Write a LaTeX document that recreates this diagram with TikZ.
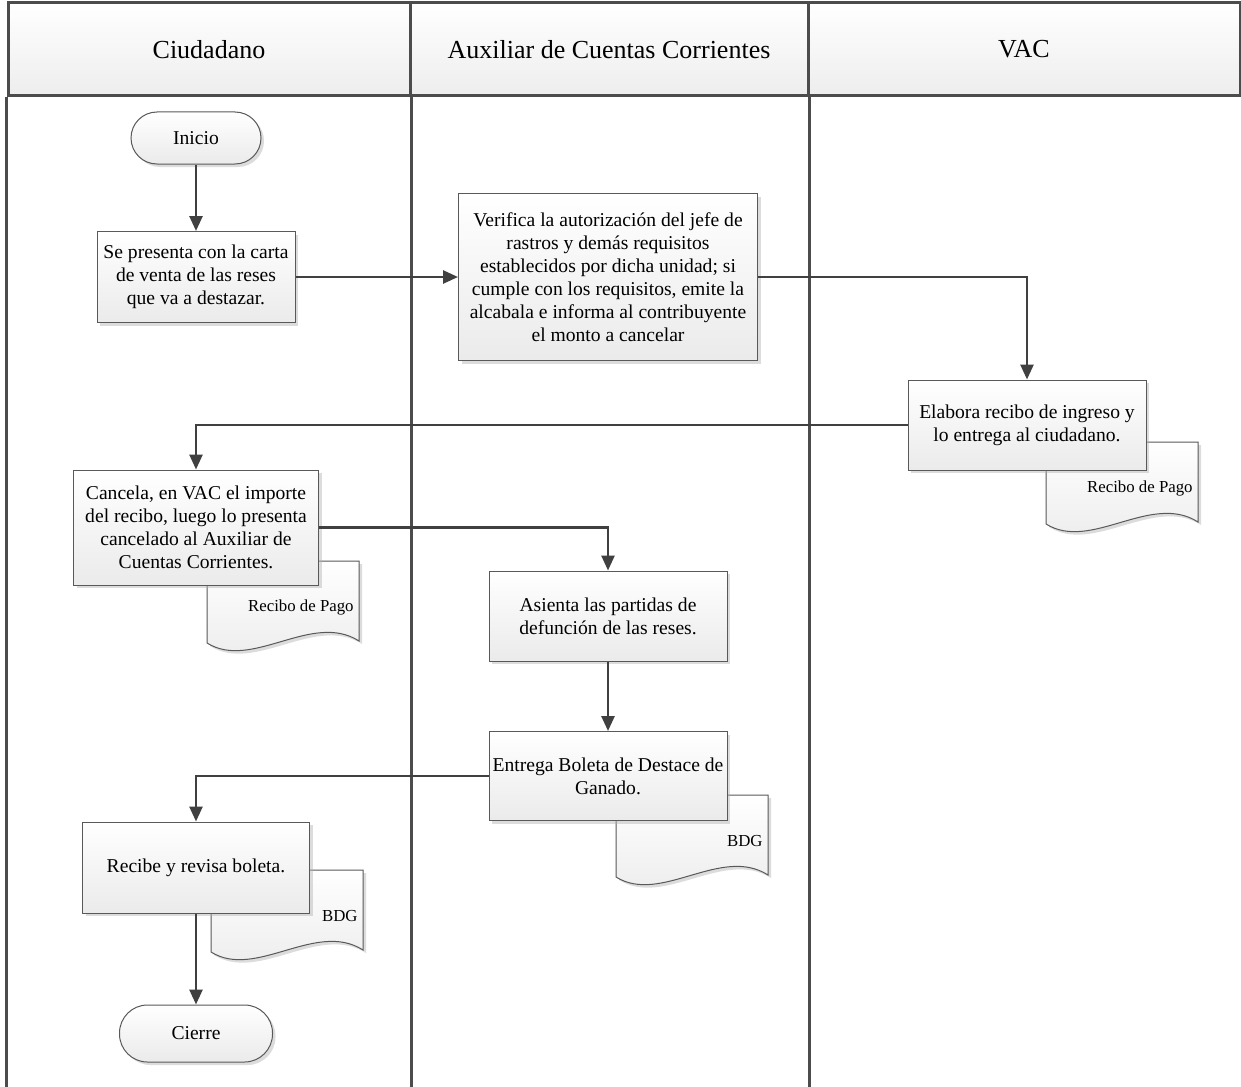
\documentclass[tikz,border=0pt]{standalone}
\usepackage{fontspec}
\setmainfont{Liberation Serif}
\usetikzlibrary{positioning, arrows.meta, shadows}

\begin{document}
\begin{tikzpicture}[x=0.5pt, y=-0.5pt, font=\fontsize{9.8}{11.5}\selectfont,
    frame/.style = {draw=black!70, line width=1.5pt},
    lane/.style = {frame, top color=white, bottom color=black!7, minimum height=46.5pt, font=\fontsize{13}{15}\selectfont},
    sombra/.style = {drop shadow={shadow xshift=1.5pt, shadow yshift=-1.5pt, fill=black!30, opacity=.45}},
    proc/.style = {draw=black!65, line width=.5pt, top color=white, bottom color=black!8, align=center, inner sep=1pt, sombra},
    term/.style = {proc, rounded corners=13pt, minimum width=65pt, minimum height=26pt},
    flow/.style = {draw=black!75, line width=1.3pt, -{Triangle[length=7.5pt, width=6.5pt]}},
    doc/.pic = {
        \path[draw=black!65, line width=.5pt, top color=white, bottom color=black!8, sombra]
            (0,0) -- (0,82) .. controls (45,110) and (105,50) .. (152,80) -- (152,0) -- cycle;
        \node[anchor=east, inner sep=0, font=\fontsize{8.4}{10}\selectfont] (-label) at (147,46) {#1};
    }]
    \path[use as bounding box, fill=white] (0,0) rectangle (1241,1086);

    \node[lane, minimum width=201pt] (ciud) at (209,49.5) {Ciudadano};
    \node[lane, minimum width=199pt] (aux)  at (609,49.5) {Auxiliar de Cuentas Corrientes};
    \node[lane, minimum width=216pt] (vac)  at (1024,49.5) {VAC};
    \coordinate (fondo) at (0,1100);
    \draw[frame] (ciud.south west) -- (ciud.south west |- fondo);
    \draw[frame] (ciud.south east) -- (ciud.south east |- fondo);
    \draw[frame] (aux.south east) -- (aux.south east |- fondo);
    \draw[frame, draw=black!45, line width=.8pt] (vac.south east) -- (vac.south east |- fondo);

    \pic (recA) at (1046,442) {doc=Recibo de Pago};
    \pic (recB) at (207,561)  {doc=Recibo de Pago};
    \pic (bdgA) at (616,795)  {doc=BDG};
    \pic (bdgB) at (211,870)  {doc=BDG};

    \node[term] (inicio) at (196,138) {Inicio};
    \node[proc, minimum width=99pt, minimum height=45.5pt] (presenta) [below of=inicio, node distance=69.5pt]
        {Se presenta con la carta\\de venta de las reses\\que va a destazar.};
    \node[proc, minimum width=149.5pt, minimum height=83.5pt] (verifica) [right of=presenta, node distance=206pt]
        {Verifica la autorización del jefe de\\rastros y demás requisitos\\establecidos por dicha unidad; si\\cumple con los requisitos, emite la\\alcabala e informa al contribuyente\\el monto a cancelar};
    \node[proc, minimum width=119pt, minimum height=45pt] (elabora) at (1027,425)
        {Elabora recibo de ingreso y\\lo entrega al ciudadano.};
    \node[proc, minimum width=122.5pt, minimum height=57.5pt] (cancela) at (196,527.5)
        {Cancela, en VAC el importe\\del recibo, luego lo presenta\\cancelado al Auxiliar de\\Cuentas Corrientes.};
    \node[proc, minimum width=119pt, minimum height=45pt] (asienta) at (608,616)
        {Asienta las partidas de\\defunción de las reses.};
    \node[proc, minimum width=119pt, minimum height=44.5pt] (entrega) [below of=asienta, node distance=80pt]
        {Entrega Boleta de Destace de\\Ganado.};
    \node[proc, minimum width=113.5pt, minimum height=45.5pt] (recibe) at (196,867.5)
        {Recibe y revisa boleta.};
    \node[term, rounded corners=14pt, minimum width=76.5pt, minimum height=28.5pt] (cierre) [below of=recibe, node distance=83pt] {Cierre};

    \draw[flow] (inicio) -- (presenta);
    \draw[flow] (presenta) -- (verifica);
    \draw[flow] (verifica) -| (elabora);
    \draw[flow] (elabora) -| (cancela);
    \draw[flow] (cancela) -| (asienta);
    \draw[flow] (asienta) -- (entrega);
    \draw[flow] (entrega) -| (recibe);
    \draw[flow] (recibe) -- (cierre);
\end{tikzpicture}
\end{document}
